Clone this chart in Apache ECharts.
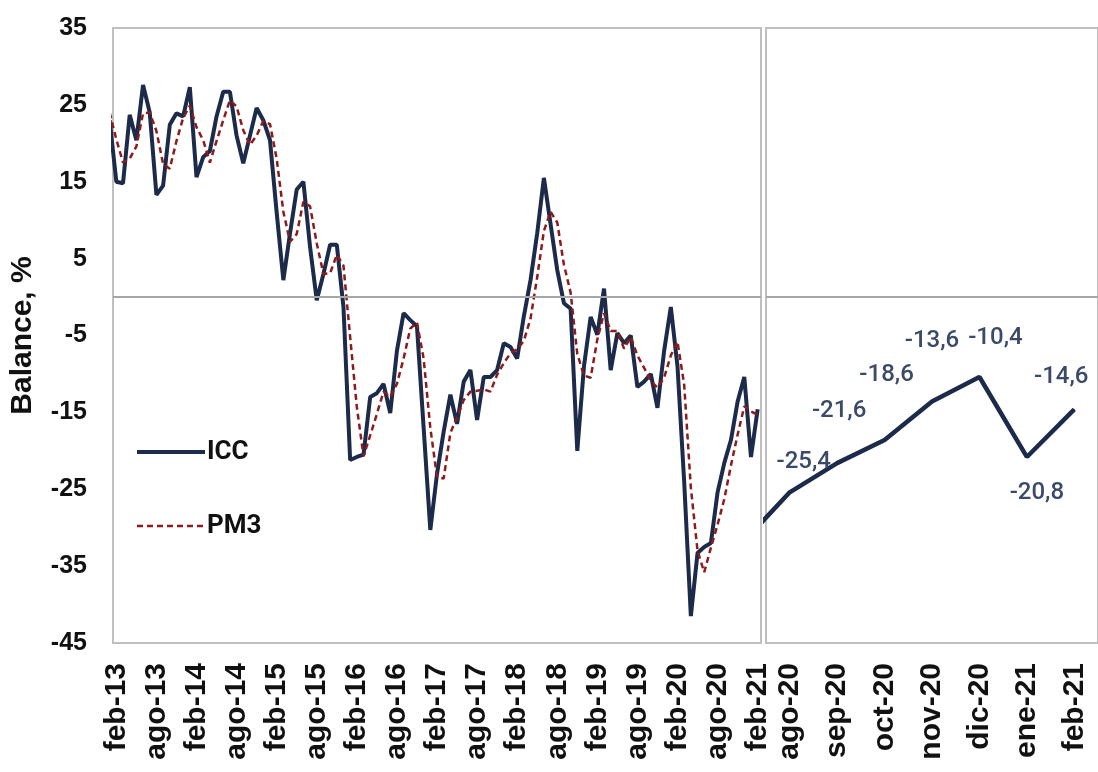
<!DOCTYPE html>
<html><head><meta charset="utf-8">
<script src="https://cdn.jsdelivr.net/npm/echarts@6/dist/echarts.min.js"></script>
<style>html,body{margin:0;padding:0;background:#fff}#c{width:1098px;height:772px}</style>
</head><body><div id="c"></div>
<script>
// Left panel: monthly, jan-13 (index -1, clipped at the edge) through feb-21 (index 96)
const tickLabels = ['feb-13','ago-13','feb-14','ago-14','feb-15','ago-15','feb-16','ago-16','feb-17','ago-17','feb-18','ago-18','feb-19','ago-19','feb-20','ago-20','feb-21'];
const iccMonthly = [
  23, 15, 14.8, 23.7, 20.4, 27.6, 24, 13.3, 14.5, 22.4, 23.9, 23.5, 27.3,
  15.6, 18.2, 19, 23.5, 26.7, 26.7, 21, 17.4, 21, 24.6, 23, 20.4,
  11, 2.2, 8.3, 14, 15, 6.5, -0.4, 3, 6.8, 6.8, -1.3, -21.2,
  -20.8, -20.5, -13, -12.5, -11.3, -15.1, -7, -2.1, -3, -3.8, -17, -30.3,
  -23, -17.5, -12.7, -16.5, -11, -9.5, -16, -10.4, -10.4, -9.5, -6, -6.5,
  -8, -2.5, 2.2, 8.3, 15.5, 9.5, 3.5, -0.8, -1.5, -20, -9, -2.6,
  -4.9, 1.1, -9.5, -4.7, -6, -5, -11.7, -11, -10, -14.4, -7, -1.3,
  -9, -24, -41.5, -33.3, -32.5, -32, -25.4, -21.6, -18.6, -13.6, -10.4, -20.8,
  -14.6
];
const pm3Monthly = [
  24, 20.5, 17.5, 18, 19.6, 23.9, 24, 21.6, 17.3, 16.7, 20.3, 23.3, 24.9,
  22.1, 20.4, 17.5, 20.3, 23, 25.6, 24.8, 21.7, 19.8, 21, 22.9, 22.5,
  18, 11.1, 7.2, 8.2, 12.4, 11.8, 7, 3, 3.1, 5.5, 4.1, -5.2,
  -14.3, -20.7, -18, -15.2, -12.3, -13, -11.3, -8, -4.1, -3.3, -8, -17,
  -23.4, -23.6, -17.7, -15.6, -13.4, -12.3, -12.2, -12, -12.3, -10.1, -8.6, -7.3,
  -6.8, -5.7, -2.8, 2.6, 8.6, 11.1, 9.7, 4.2, 0.6, -7.4, -10.2, -10.5,
  -5.5, -2.1, -4.4, -4.4, -6.7, -5.2, -7.6, -9.2, -10.9, -11.8, -10.5, -7.6,
  -5.8, -11.4, -24.8, -33, -35.8, -32.6, -29.6, -26.3, -21.9, -17.9, -14.2, -14.9,
  -15.3
];
// Right panel: jul-20 (index 0, clipped at the edge) through feb-21
const recentLabels = ['jul-20','ago-20','sep-20','oct-20','nov-20','dic-20','ene-21','feb-21'];
const recentIcc = [-32, -25.4, -21.6, -18.6, -13.6, -10.4, -20.8, -14.6];

const labelOffsets = [[0,0],[14,-30],[2,-52],[2,-65],[0,-61],[16,-39],[10,36],[-13,-32]];

const navy = '#1C2B4A', red = '#8E1B1B', gridGrey = '#BFBFBF';
const axisFont = 'Liberation Sans, Arial, sans-serif';

const zeroLine = {
  silent: true, symbol: 'none', label: {show: false},
  lineStyle: {color: '#A6A6A6', width: 2, type: 'solid'},
  data: [{yAxis: 0}]
};

const chart = echarts.init(document.getElementById('c'));
chart.setOption({
  animation: false,
  backgroundColor: '#fff',
  grid: [
    {left: 108, top: 28, width: 653, height: 615, show: true, borderColor: gridGrey, borderWidth: 2},
    {left: 766, top: 28, width: 338, height: 615, show: true, borderColor: gridGrey, borderWidth: 2}
  ],
  legend: {
    data: ['ICC', 'PM3'],
    orient: 'vertical', left: 130, top: 434,
    itemWidth: 68, itemHeight: 14, itemGap: 48,
    itemStyle: {opacity: 0},
    lineStyle: {width: 'inherit'},
    textStyle: {fontSize: 26, fontWeight: 'bold', fontFamily: 'Roboto, sans-serif', color: '#111', padding: [0, 0, 0, -3]}
  },
  xAxis: [
    {
      type: 'value', gridIndex: 0, min: -0.5, max: 96.5,
      axisLine: {show: false}, axisTick: {show: false}, splitLine: {show: false},
      axisLabel: {
        customValues: tickLabels.map((_, k) => k * 6),
        formatter: v => tickLabels[Math.round(v / 6)],
        rotate: 90, margin: 20, fontSize: 30, fontWeight: 'bold', fontFamily: axisFont, color: '#111'
      }
    },
    {
      type: 'value', gridIndex: 1, min: 0.5, max: 7.5,
      axisLine: {show: false}, axisTick: {show: false}, splitLine: {show: false},
      axisLabel: {
        customValues: recentLabels.slice(1).map((_, k) => k + 1),
        formatter: v => recentLabels[Math.round(v)],
        rotate: 90, margin: 20, fontSize: 30, fontWeight: 'bold', fontFamily: axisFont, color: '#111'
      }
    }
  ],
  yAxis: [
    {
      type: 'value', gridIndex: 0, min: -45, max: 35, interval: 10,
      axisLine: {show: false}, axisTick: {show: false}, splitLine: {show: false},
      axisLabel: {fontSize: 25, fontWeight: 'bold', fontFamily: axisFont, color: '#111', margin: 26},
      name: 'Balance, %', nameLocation: 'middle', nameGap: 75,
      nameTextStyle: {fontSize: 30, fontWeight: 'bold', fontFamily: axisFont, color: '#111'}
    },
    {
      type: 'value', gridIndex: 1, min: -45, max: 35, interval: 10,
      axisLine: {show: false}, axisTick: {show: false}, splitLine: {show: false},
      axisLabel: {show: false}
    }
  ],
  series: [
    {
      name: 'ICC', type: 'line', xAxisIndex: 0, yAxisIndex: 0,
      data: iccMonthly.map((v, k) => [k - 1, v]),
      symbol: 'none', z: 3,
      lineStyle: {color: navy, width: 4},
      itemStyle: {color: navy},
      markLine: zeroLine
    },
    {
      name: 'PM3', type: 'line', xAxisIndex: 0, yAxisIndex: 0,
      data: pm3Monthly.map((v, k) => [k - 1, v]),
      symbol: 'none', z: 4,
      lineStyle: {color: red, width: 2.5, type: [6, 4]},
      itemStyle: {color: red}
    },
    {
      name: 'ICC reciente', type: 'line', xAxisIndex: 1, yAxisIndex: 1,
      data: recentIcc.map((v, k) => ({value: [k, v], label: {show: k > 0, offset: labelOffsets[k]}})),
      symbol: 'circle', symbolSize: 1, showSymbol: true, z: 3,
      lineStyle: {color: navy, width: 4.5},
      itemStyle: {color: navy},
      label: {
        position: 'inside', color: '#3A4A68', fontSize: 24, fontWeight: 500, fontFamily: 'Roboto, sans-serif',
        formatter: p => String(p.value[1]).replace('.', ',')
      },
      markLine: zeroLine
    }
  ]
});
</script>
</body></html>
